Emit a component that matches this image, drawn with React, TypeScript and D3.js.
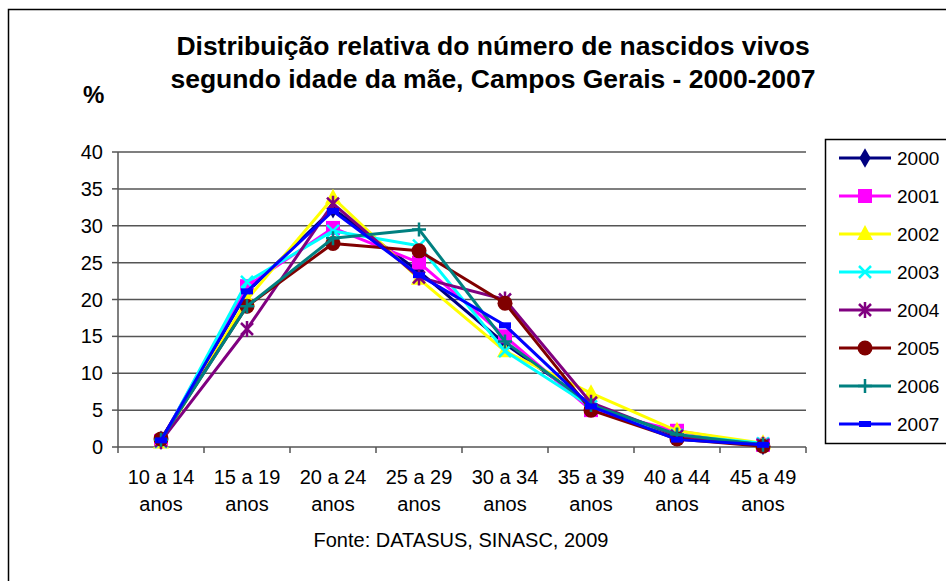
import React, { useEffect, useRef } from "react";
import * as d3 from "d3";

const categories = [
  ["10 a 14", "anos"],
  ["15 a 19", "anos"],
  ["20 a 24", "anos"],
  ["25 a 29", "anos"],
  ["30 a 34", "anos"],
  ["35 a 39", "anos"],
  ["40 a 44", "anos"],
  ["45 a 49", "anos"],
];
const years = ["2000", "2001", "2002", "2003", "2004", "2005", "2006", "2007"];
const v2000 = [0.9, 21.0, 32.3, 23.8, 14.0, 5.8, 1.4, 0.2];
const v2001 = [0.8, 21.8, 29.7, 25.0, 15.0, 5.0, 2.2, 0.3];
const v2002 = [0.6, 20.0, 33.8, 22.8, 13.0, 7.3, 2.2, 0.5];
const v2003 = [0.7, 22.4, 29.3, 27.3, 13.0, 5.5, 1.6, 0.5];
const v2004 = [0.8, 16.0, 33.0, 23.0, 20.0, 6.0, 1.5, 0.3];
const v2005 = [1.1, 19.1, 27.6, 26.6, 19.5, 5.0, 1.1, 0.1];
const v2006 = [1.0, 19.1, 28.3, 29.5, 14.3, 5.7, 1.7, 0.3];
const v2007 = [0.9, 21.1, 32.0, 23.3, 16.5, 5.5, 1.0, 0.3];
const seriesValues = [v2000, v2001, v2002, v2003, v2004, v2005, v2006, v2007];
const yTicks = [0, 5, 10, 15, 20, 25, 30, 35, 40];
const colors = ["#000080", "#ff00ff", "#ffff00", "#00ffff", "#800080", "#800000", "#008080", "#0000ff"];
const markers = ["diamond", "square", "triangle", "x", "asterisk", "circle", "plus", "dash"];

const FONT = "'Liberation Sans', Arial, sans-serif";

function drawMarker(g: any, kind: string, color: string) {
  if (kind === "diamond") {
    g.append("path").attr("d", d3.symbol(d3.symbolDiamond, 110)()).attr("fill", color);
  } else if (kind === "square") {
    g.append("rect").attr("x", -7).attr("y", -7).attr("width", 14).attr("height", 14).attr("fill", color);
  } else if (kind === "triangle") {
    g.append("path").attr("d", "M0,-9L8,6L-8,6Z").attr("fill", color);
  } else if (kind === "circle") {
    g.append("circle").attr("r", 7.5).attr("fill", color);
  } else if (kind === "x") {
    g.append("path").attr("d", "M-6,-6L6,6M-6,6L6,-6").attr("stroke", color).attr("stroke-width", 2.5).attr("fill", "none");
  } else if (kind === "asterisk") {
    g.append("path").attr("d", "M-6,-6L6,6M-6,6L6,-6M0,-8L0,8").attr("stroke", color).attr("stroke-width", 2.5).attr("fill", "none");
  } else if (kind === "plus") {
    g.append("path").attr("d", "M-7,0L7,0M0,-7L0,7").attr("stroke", color).attr("stroke-width", 2.5).attr("fill", "none");
  } else if (kind === "dash") {
    g.append("rect").attr("x", -6).attr("y", -3).attr("width", 12).attr("height", 6).attr("fill", color);
  }
}

function Chart() {
  const ref = useRef<SVGSVGElement>(null);

  useEffect(() => {
    const svg = d3.select(ref.current);
    svg.selectAll("*").remove();
    const W = 946, H = 581;
    const left = 118, right = 806, top = 152, bottom = 447;

    svg.append("rect").attr("width", W).attr("height", H).attr("fill", "#fff");
    // outer chart frame, runs past the right and bottom edges
    svg.append("rect").attr("x", 8.5).attr("y", 9.5).attr("width", 980).attr("height", 640)
      .attr("fill", "none").attr("stroke", "#000").attr("stroke-width", 1.5);

    const x = d3.scaleBand().domain(categories.map((c) => c[0])).range([left, right]);
    const y = d3.scaleLinear().domain([0, 40]).range([bottom, top]);

    // gridlines
    svg.append("g").selectAll("line").data(yTicks.slice(1)).join("line")
      .attr("x1", left).attr("x2", right).attr("y1", (d) => y(d)).attr("y2", (d) => y(d))
      .attr("stroke", "#555").attr("stroke-width", 1.5);

    // y axis
    const ya = svg.append("g");
    ya.append("line").attr("x1", left).attr("x2", left).attr("y1", top).attr("y2", bottom)
      .attr("stroke", "#555").attr("stroke-width", 1.5);
    ya.selectAll("line.t").data(yTicks).join("line").attr("class", "t")
      .attr("x1", left - 6).attr("x2", left).attr("y1", (d) => y(d)).attr("y2", (d) => y(d))
      .attr("stroke", "#555").attr("stroke-width", 1.5);
    ya.selectAll("text").data(yTicks).join("text")
      .attr("x", left - 15).attr("y", (d) => y(d) + 7).attr("text-anchor", "end")
      .style("font-family", FONT).style("font-size", "20px").text((d) => d);

    // x axis
    const xa = svg.append("g");
    xa.append("line").attr("x1", left).attr("x2", right).attr("y1", bottom).attr("y2", bottom)
      .attr("stroke", "#555").attr("stroke-width", 1.5);
    const bounds = categories.map((c) => x(c[0]) as number).concat([right]);
    xa.selectAll("line.t").data(bounds).join("line").attr("class", "t")
      .attr("x1", (d) => d).attr("x2", (d) => d).attr("y1", bottom).attr("y2", bottom + 6)
      .attr("stroke", "#555").attr("stroke-width", 1.5);
    const lab = xa.selectAll("g.l").data(categories).join("g").attr("class", "l");
    lab.append("text").attr("x", (d) => (x(d[0]) as number) + x.bandwidth() / 2).attr("y", 484)
      .attr("text-anchor", "middle").style("font-family", FONT).style("font-size", "20px").text((d) => d[0]);
    lab.append("text").attr("x", (d) => (x(d[0]) as number) + x.bandwidth() / 2).attr("y", 511)
      .attr("text-anchor", "middle").style("font-family", FONT).style("font-size", "20px").text((d) => d[1]);

    // series
    const line = d3.line<number>()
      .x((d, i) => (x(categories[i][0]) as number) + x.bandwidth() / 2)
      .y((d) => y(d));
    seriesValues.forEach((vals, si) => {
      const g = svg.append("g");
      g.append("path").attr("d", line(vals)).attr("fill", "none")
        .attr("stroke", colors[si]).attr("stroke-width", 3).attr("stroke-linejoin", "round");
      vals.forEach((v, i) => {
        const m = g.append("g").attr("transform",
          `translate(${(x(categories[i][0]) as number) + x.bandwidth() / 2},${y(v)})`);
        drawMarker(m, markers[si], colors[si]);
      });
    });

    // legend
    const lg = svg.append("g");
    lg.append("rect").attr("x", 825.5).attr("y", 139.5).attr("width", 200).attr("height", 304)
      .attr("fill", "#fff").attr("stroke", "#000").attr("stroke-width", 1.5);
    years.forEach((yr, i) => {
      const cy = 158 + i * 38;
      lg.append("line").attr("x1", 839).attr("x2", 891).attr("y1", cy).attr("y2", cy)
        .attr("stroke", colors[i]).attr("stroke-width", 3);
      drawMarker(lg.append("g").attr("transform", `translate(865,${cy})`), markers[i], colors[i]);
      lg.append("text").attr("x", 897).attr("y", cy + 7)
        .style("font-family", FONT).style("font-size", "19px").text(yr);
    });

    // titles
    const tt = svg.append("text").attr("text-anchor", "middle")
      .style("font-family", FONT).style("font-size", "26.5px").style("font-weight", "bold");
    tt.append("tspan").attr("x", 493).attr("y", 55).text("Distribuição relativa do número de nascidos vivos");
    tt.append("tspan").attr("x", 493).attr("y", 88).text("segundo idade da mãe, Campos Gerais - 2000-2007");
    svg.append("text").attr("x", 83).attr("y", 103)
      .style("font-family", FONT).style("font-size", "24px").style("font-weight", "bold").text("%");
    svg.append("text").attr("x", 461).attr("y", 547).attr("text-anchor", "middle")
      .style("font-family", FONT).style("font-size", "20px").text("Fonte: DATASUS, SINASC, 2009");
  }, []);

  return <svg ref={ref} width={946} height={581} style={{ display: "block" }} />;
}

export default function App() {
  return (
    <div style={{ position: "absolute", left: 0, top: 0 }}>
      <Chart />
    </div>
  );
}
